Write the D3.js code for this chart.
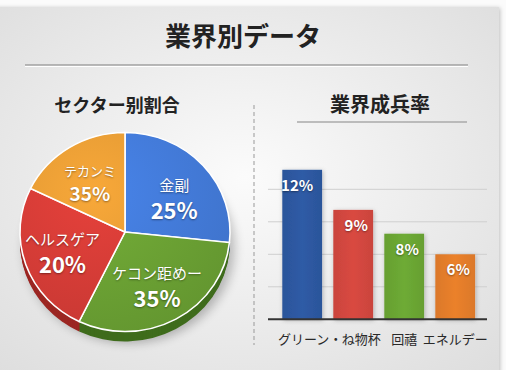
<!DOCTYPE html>
<html><head><meta charset="utf-8">
<script src="https://cdn.jsdelivr.net/npm/d3@7"></script>
<style>
html,body{margin:0;padding:0;background:#fbfbfb;}
svg{display:block;font-family:"Noto Sans CJK JP","Noto Sans",sans-serif;}
.pl{fill:#fff;text-shadow:0 1px 2px rgba(0,0,0,0.4);}
</style></head>
<body><svg id="c" width="506" height="370"></svg>
<script>
// ---- data ----
const pieNames = ["金副", "ケコン距めー", "ヘルスゲア", "テカンミ"];
const pieLabels = ["25%", "35%", "20%", "35%"];
const pieShares = [26.7, 30.5, 25.0, 17.8];      // slice sizes as drawn
const barCats = ["グリーン・", "ね物杯", "回禧", "エネルデー"];
const barLabels = ["12%", "9%", "8%", "6%"];
const barValues = [13.8, 10.1, 7.9, 6.0];         // bar heights as drawn
const gridTicks = [3, 6, 9, 12];

const pieTop = ["#4279d6", "#6a9f33", "#d23b36", "#e39a34"];
const pieSide = ["#2c55a0", "#3f6c1c", "#9c2723", "#b06f1c"];
const barCol = ["#2d58a0", "#d1463f", "#6aa533", "#e37c2a"];

const svg = d3.select("#c");
const defs = svg.append("defs");

const rg = defs.append("radialGradient").attr("id","bg").attr("cx","50%").attr("cy","45%").attr("r","70%");
rg.append("stop").attr("offset","0%").attr("stop-color","#fbfbfb");
rg.append("stop").attr("offset","100%").attr("stop-color","#dedede");
const sh = defs.append("filter").attr("id","sh").attr("x","-10%").attr("y","-10%").attr("width","130%").attr("height","130%");
sh.append("feDropShadow").attr("dx",1).attr("dy",1).attr("stdDeviation",2).attr("flood-opacity",0.25);
const blur = defs.append("filter").attr("id","blur").attr("x","-30%").attr("y","-30%").attr("width","160%").attr("height","160%");
blur.append("feGaussianBlur").attr("stdDeviation",5);

svg.append("rect").attr("x",-10).attr("y",7).attr("width",509).attr("height",380)
  .attr("fill","url(#bg)").attr("filter","url(#sh)");

// title
svg.append("text").attr("x",243).attr("y",46).attr("text-anchor","middle")
  .attr("font-size",26).attr("font-weight",700).attr("fill","#222").text("業界別データ");
svg.append("line").attr("x1",25).attr("x2",468).attr("y1",66).attr("y2",66).attr("stroke","#fff").attr("stroke-width",2);
svg.append("line").attr("x1",25).attr("x2",468).attr("y1",65).attr("y2",65).attr("stroke","#a0a0a0").attr("stroke-width",1.6);

// separator
svg.append("line").attr("x1",254).attr("x2",254).attr("y1",105).attr("y2",345)
  .attr("stroke","#999").attr("stroke-width",1).attr("stroke-dasharray","4,3");

// ---- pie ----
svg.append("text").attr("x",117).attr("y",112).attr("text-anchor","middle")
  .attr("font-size",18).attr("font-weight",700).attr("fill","#222").text("セクター别割合");

const cx = 125, cy = 232, R = 100, depth = 10;
const pg = svg.append("g").attr("transform",`translate(${cx},${cy}) scale(1.05,0.995)`);
const pie = d3.pie().sort(null).value(d => d)(pieShares);
const arc = d3.arc().innerRadius(0).outerRadius(R);
const lab = d3.arc().innerRadius(63).outerRadius(63);
const labShift = [9, 0, 0, 4];

pg.append("ellipse").attr("cx",4).attr("cy",depth+6).attr("rx",R).attr("ry",R*0.96)
  .attr("fill","#000").attr("opacity",0.25).attr("filter","url(#blur)");
for (let k = depth; k >= 1; k--) {
  pg.append("g").attr("transform",`translate(0,${k})`).selectAll("path").data(pie).join("path")
    .attr("d",arc).attr("fill",(d,i)=>pieSide[i]);
}
pieTop.forEach((c,i)=>{
  const g = defs.append("radialGradient").attr("id","pg"+i).attr("gradientUnits","userSpaceOnUse")
    .attr("cx",-30).attr("cy",-40).attr("r",150);
  g.append("stop").attr("offset","0%").attr("stop-color",d3.color(c).brighter(0.25));
  g.append("stop").attr("offset","100%").attr("stop-color",d3.color(c).darker(0.15));
});
pg.selectAll("path.top").data(pie).join("path").attr("class","top")
  .attr("d",arc).attr("fill",(d,i)=>`url(#pg${i})`).attr("stroke","#fff").attr("stroke-width",1.5);

const lg = svg.append("g").attr("transform",`translate(${cx},${cy})`);
pie.forEach((d,i)=>{
  const [x,y0] = lab.centroid(d);
  const y = y0 + labShift[i];
  const small = i === 3;
  lg.append("text").attr("class","pl").attr("x",x*1.05).attr("y",y-(small?7:8))
    .attr("text-anchor","middle").attr("font-size",small?13:15).attr("font-weight",400).text(pieNames[i]);
  lg.append("text").attr("class","pl").attr("x",x*1.05).attr("y",y+(small?18:20))
    .attr("text-anchor","middle").attr("font-size",small?19:22).attr("font-weight",700).text(pieLabels[i]);
});

// ---- bars ----
svg.append("text").attr("x",380).attr("y",112).attr("text-anchor","middle")
  .attr("font-size",20).attr("font-weight",700).attr("fill","#222").text("業界成兵率");
svg.append("line").attr("x1",297).attr("x2",467).attr("y1",122).attr("y2",122).attr("stroke","#aaa").attr("stroke-width",1.6);

const x = d3.scaleBand().domain(barCats).range([277.2,480.2]).paddingInner(0.22).paddingOuter(0.1);
const y = d3.scaleLinear().domain([0,15]).range([319.3,156.8]);

svg.append("g").selectAll("line").data(gridTicks).join("line")
  .attr("x1",268).attr("x2",487).attr("y1",d=>y(d)).attr("y2",d=>y(d))
  .attr("stroke","#cfcfcf").attr("stroke-width",1);

barCol.forEach((c,i)=>{
  const g = defs.append("linearGradient").attr("id","bg"+i).attr("x1",0).attr("x2",1).attr("y1",0).attr("y2",0);
  g.append("stop").attr("offset","0%").attr("stop-color",d3.color(c).darker(0.1));
  g.append("stop").attr("offset","50%").attr("stop-color",d3.color(c).brighter(0.1));
  g.append("stop").attr("offset","100%").attr("stop-color",d3.color(c).darker(0.1));
});
svg.append("g").selectAll("rect").data(barValues).join("rect")
  .attr("x",(d,i)=>x(barCats[i])).attr("width",x.bandwidth())
  .attr("y",d=>y(d)).attr("height",d=>y(0)-y(d))
  .attr("fill",(d,i)=>`url(#bg${i})`).attr("filter","url(#sh)");

svg.append("g").selectAll("text").data(barValues).join("text").attr("class","pl")
  .attr("x",(d,i)=>x(barCats[i])+x.bandwidth()/2+(i===0?-5:3))
  .attr("y",d=>y(d)+21).attr("text-anchor","middle")
  .attr("font-size",15).attr("font-weight",700).text((d,i)=>barLabels[i]);

svg.append("line").attr("x1",268).attr("x2",487).attr("y1",y(0)).attr("y2",y(0))
  .attr("stroke","#333").attr("stroke-width",2);

const xa = svg.append("g").attr("transform",`translate(0,${y(0)})`)
  .call(d3.axisBottom(x).tickSize(0).tickPadding(15));
xa.select(".domain").remove();
xa.selectAll("text").attr("font-size",13).attr("fill","#2a2a2a")
  .attr("font-family","'Noto Sans CJK JP',sans-serif")
  .attr("dx",(d,i)=>i===0?8:(i===1?8:0));
</script></body></html>
